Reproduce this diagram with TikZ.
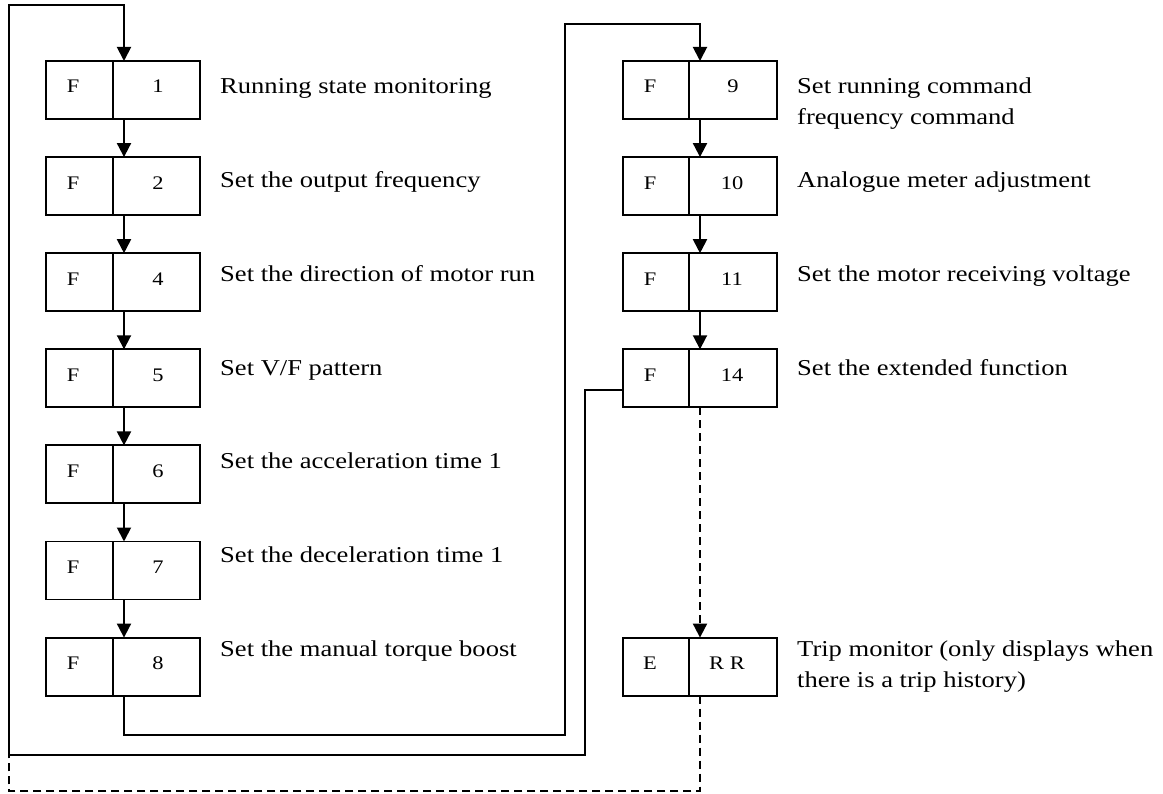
\documentclass[tikz,border=0pt]{standalone}
\usepackage{fontspec}
\setmainfont{Liberation Serif}[FakeStretch=1.17]
\usetikzlibrary{arrows.meta,calc}
\begin{document}
\begin{tikzpicture}[x=1pt,y=-1pt,
  cell/.style={draw, line width=1.9pt, minimum height=58pt, inner sep=0pt, outer sep=0pt},
  lcellA/.style={cell, minimum width=67pt, anchor=east},
  rcellA/.style={cell, minimum width=87pt, anchor=west},
  lcellB/.style={cell, minimum width=66pt, anchor=east},
  rcellB/.style={cell, minimum width=88pt, anchor=west},
  boxtxt/.style={font=\fontsize{19.2}{23}\selectfont, anchor=base, inner sep=0pt},
  lbl/.style={font=\fontsize{22.7}{31}\selectfont, anchor=base west, inner sep=0pt, align=left},
  conn/.style={line width=1.9pt},
  arr/.style={conn, -{Triangle[length=14pt,width=14pt]}},
  dsh/.style={conn, dash pattern=on 8pt off 5pt},
]
\useasboundingbox (0,0) rectangle (1163,794);

% ---- left column ----
\node[lcellA] (f1l) at (113,90) {};
\node[rcellA] (f1r) at (113,90) {};
\node[boxtxt] (f1a) at (73,93) {F};
\node[boxtxt] (f1b) at (158,93) {1};
\node[lbl] (f1t) at (220,94) {Running state monitoring};

\node[lcellA] (f2l) at (113,186.1) {};
\node[rcellA] (f2r) at (113,186.1) {};
\node[boxtxt] (f2a) at (73,189.1) {F};
\node[boxtxt] (f2b) at (158,189.1) {2};
\node[lbl] (f2t) at (220,187.7) {Set the output frequency};

\node[lcellA] (f4l) at (113,282.2) {};
\node[rcellA] (f4r) at (113,282.2) {};
\node[boxtxt] (f4a) at (73,285.2) {F};
\node[boxtxt] (f4b) at (158,285.2) {4};
\node[lbl] (f4t) at (220,281.4) {Set the direction of motor run};

\node[lcellA] (f5l) at (113,378.3) {};
\node[rcellA] (f5r) at (113,378.3) {};
\node[boxtxt] (f5a) at (73,381.3) {F};
\node[boxtxt] (f5b) at (158,381.3) {5};
\node[lbl] (f5t) at (220,375.1) {Set V/F pattern};

\node[lcellA] (f6l) at (113,474.4) {};
\node[rcellA] (f6r) at (113,474.4) {};
\node[boxtxt] (f6a) at (73,477.4) {F};
\node[boxtxt] (f6b) at (158,477.4) {6};
\node[lbl] (f6t) at (220,468.8) {Set the acceleration time 1};

\node[lcellA] (f7l) at (113,570.5) {};
\node[rcellA] (f7r) at (113,570.5) {};
\node[boxtxt] (f7a) at (73,573.5) {F};
\node[boxtxt] (f7b) at (158,573.5) {7};
\node[lbl] (f7t) at (220,562.5) {Set the deceleration time 1};

\node[lcellA] (f8l) at (113,666.6) {};
\node[rcellA] (f8r) at (113,666.6) {};
\node[boxtxt] (f8a) at (73,669.6) {F};
\node[boxtxt] (f8b) at (158,669.6) {8};
\node[lbl] (f8t) at (220,656.2) {Set the manual torque boost};

% ---- right column ----
\node[lcellB] (f9l) at (689,90) {};
\node[rcellB] (f9r) at (689,90) {};
\node[boxtxt] (f9a) at (650,93) {F};
\node[boxtxt] (f9b) at (733,93) {9};
\node[lbl] (f9t) at (797,125) {Set running command\\frequency command};

\node[lcellB] (f10l) at (689,186.1) {};
\node[rcellB] (f10r) at (689,186.1) {};
\node[boxtxt] (f10a) at (650,189.1) {F};
\node[boxtxt] (f10b) at (732,189.1) {10};
\node[lbl] (f10t) at (797,187.7) {Analogue meter adjustment};

\node[lcellB] (f11l) at (689,282.2) {};
\node[rcellB] (f11r) at (689,282.2) {};
\node[boxtxt] (f11a) at (650,285.2) {F};
\node[boxtxt] (f11b) at (732,285.2) {11};
\node[lbl] (f11t) at (797,281.4) {Set the motor receiving voltage};

\node[lcellB] (f14l) at (689,378.3) {};
\node[rcellB] (f14r) at (689,378.3) {};
\node[boxtxt] (f14a) at (650,381.3) {F};
\node[boxtxt] (f14b) at (732,381.3) {14};
\node[lbl] (f14t) at (797,375.1) {Set the extended function};

\node[lcellB] (errl) at (689,666.6) {};
\node[rcellB] (errr) at (689,666.6) {};
\node[boxtxt] (erra) at (650,669.6) {E};
\node[boxtxt] (errb) at (727,669.6) {R R};
\node[lbl] (errt) at (797,687.2) {Trip monitor (only displays when\\there is a trip history)};

% ---- connectors, left column ----
\draw[arr] ([xshift=11pt]f1r.south west) -- ([xshift=11pt]f2r.north west);
\draw[arr] ([xshift=11pt]f2r.south west) -- ([xshift=11pt]f4r.north west);
\draw[arr] ([xshift=11pt]f4r.south west) -- ([xshift=11pt]f5r.north west);
\draw[arr] ([xshift=11pt]f5r.south west) -- ([xshift=11pt]f6r.north west);
\draw[arr] ([xshift=11pt]f6r.south west) -- ([xshift=11pt]f7r.north west);
\draw[arr] ([xshift=11pt]f7r.south west) -- ([xshift=11pt]f8r.north west);

% ---- connectors, right column ----
\draw[arr] ([xshift=11pt]f9r.south west) -- ([xshift=11pt]f10r.north west);
\draw[arr] ([xshift=11pt]f10r.south west) -- ([xshift=11pt]f11r.north west);
\draw[arr] ([xshift=11pt]f11r.south west) -- ([xshift=11pt]f14r.north west);

% ---- loops ----
\draw[arr] ([xshift=11pt]f8r.south west) |- (565,735) -- (565,24) -| ([xshift=11pt]f9r.north west);
\draw[arr] ([yshift=-12pt]f14l.west) -| (585,755) -| (9,5) -| ([xshift=11pt]f1r.north west);

% ---- dashed ----
\draw[dsh, -{Triangle[length=14pt,width=14pt]}] ([xshift=11pt]f14r.south west) -- ([xshift=11pt]errr.north west);
\draw[dsh] ([xshift=11pt]errr.south west) |- (9,791) -- (9,755);
\end{tikzpicture}
\end{document}
